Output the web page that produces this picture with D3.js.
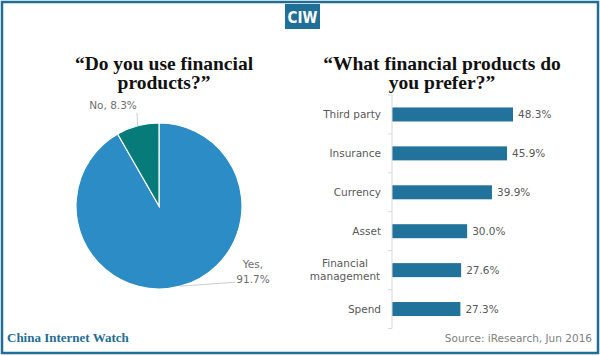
<!DOCTYPE html>
<html><head><meta charset="utf-8">
<script src="https://cdn.jsdelivr.net/npm/d3@7/dist/d3.min.js"></script>
<style>body{margin:0;background:#fff}svg{display:block}</style>
</head><body>
<script>
const pieLabels = ["Yes", "No"];
const pieValues = [91.7, 8.3];
const barCategories = ["Third party", "Insurance", "Currency", "Asset", "Financial management", "Spend"];
const barValues = [48.3, 45.9, 39.9, 30.0, 27.6, 27.3];

const W = 600, H = 356;
const svg = d3.select("body").append("svg").attr("width", W).attr("height", H);
const frameColor = "#1f6e96";
const labelFont = "'DejaVu Sans', sans-serif";
const titleFont = "'Liberation Serif', 'DejaVu Serif', serif";

svg.append("rect").attr("x", 2).attr("y", 2).attr("width", 596).attr("height", 351)
  .attr("fill", "none").attr("stroke", frameColor).attr("stroke-width", 2.5);

// CIW badge
svg.append("rect").attr("x", 285).attr("y", 4).attr("width", 35).attr("height", 25).attr("fill", "#1f6f98");
svg.append("text").attr("x", 302.5).attr("y", 22.5).attr("text-anchor", "middle")
  .attr("fill", "#fff").attr("font-family", "'Liberation Sans Narrow', 'DejaVu Sans Condensed', sans-serif")
  .attr("font-weight", "bold").attr("font-size", 15).text("CIW");

// Titles
function title(x, lines) {
  const t = svg.append("text").attr("text-anchor", "middle").attr("font-family", titleFont)
    .attr("font-weight", "bold").attr("font-size", 19.5).attr("fill", "#111");
  lines.forEach((l, i) => t.append("tspan").attr("x", x).attr("y", 70 + i * 19).text(l));
}
title(164, ["\u201CDo you use financial", "products?\u201D"]);
title(442, ["\u201CWhat financial products do", "you prefer?\u201D"]);

// Pie
const cx = 159, cy = 206, r = 83;
const pie = d3.pie().sort(null).value(d => d)(pieValues);
const arc = d3.arc().innerRadius(0).outerRadius(r);
const pieColors = ["#2b8cc6", "#077b79"];
const pg = svg.append("g").attr("transform", `translate(${cx},${cy})`);
pg.selectAll("path").data(pie).join("path").attr("d", arc)
  .attr("fill", (d, i) => pieColors[i]).attr("stroke", "#fff").attr("stroke-width", 1.2);

const lblColor = "#6e6e6e";
// leader lines
const ptArc = d3.arc().innerRadius(r).outerRadius(r);
const yesC = ptArc.centroid(pie[0]);
const noC = ptArc.centroid(pie[1]);
pg.append("line").attr("x1", noC[0]).attr("y1", noC[1]).attr("x2", noC[0] - 0.5).attr("y2", noC[1] - 13)
  .attr("stroke", "#bfbfbf").attr("stroke-width", 0.8);
pg.append("line").attr("x1", yesC[0]).attr("y1", yesC[1]).attr("x2", yesC[0] + 55).attr("y2", yesC[1] - 4)
  .attr("stroke", "#bfbfbf").attr("stroke-width", 0.8);
svg.append("text").attr("x", 113).attr("y", 109).attr("text-anchor", "middle")
  .attr("font-family", labelFont).attr("font-size", 10.5).attr("fill", lblColor)
  .text(`${pieLabels[1]}, ${pieValues[1]}%`);
const yt = svg.append("text").attr("text-anchor", "middle").attr("font-family", labelFont)
  .attr("font-size", 10.5).attr("fill", lblColor);
yt.append("tspan").attr("x", 253).attr("y", 268).text(`${pieLabels[0]},`);
yt.append("tspan").attr("x", 253).attr("y", 283).text(`${pieValues[0]}%`);

// Bars
const x0 = 392;
const x = d3.scaleLinear().domain([0, 48.3]).range([x0, 513]);
const y = d3.scaleBand().domain(barCategories).range([95, 328.5]).paddingInner(0.64).paddingOuter(0.32);
const barColor = "#22739b";
svg.selectAll("rect.bar").data(barValues).join("rect").attr("class", "bar")
  .attr("x", x0).attr("y", (d, i) => y(barCategories[i]))
  .attr("width", d => x(d) - x0).attr("height", y.bandwidth()).attr("fill", barColor);

// axis
svg.append("line").attr("x1", x0).attr("x2", x0).attr("y1", 95).attr("y2", 328.5)
  .attr("stroke", "#d9d9d9").attr("stroke-width", 1);
const bounds = d3.range(barCategories.length + 1).map(i => 95 + i * (233.5 / barCategories.length));
svg.selectAll("line.tk").data(bounds).join("line").attr("class", "tk")
  .attr("x1", x0 - 4).attr("x2", x0).attr("y1", d => d).attr("y2", d => d)
  .attr("stroke", "#d9d9d9").attr("stroke-width", 1);

// category labels
barCategories.forEach((c, i) => {
  const cyb = y(c) + y.bandwidth() / 2;
  if (c === "Financial management") {
    const t = svg.append("text").attr("text-anchor", "middle").attr("font-family", labelFont)
      .attr("font-size", 10.5).attr("fill", "#595959");
    t.append("tspan").attr("x", 345).attr("y", cyb - 3).text("Financial");
    t.append("tspan").attr("x", 345).attr("y", cyb + 10).text("management");
  } else {
    svg.append("text").attr("text-anchor", "end").attr("font-family", labelFont)
      .attr("font-size", 10.5).attr("fill", "#595959")
      .attr("x", 381).attr("y", cyb + 4).text(c);
  }
  svg.append("text").attr("x", x(barValues[i]) + 5).attr("y", cyb + 4)
    .attr("font-family", labelFont).attr("font-size", 10.5).attr("fill", "#595959")
    .text(barValues[i].toFixed(1) + "%");
});

// footer
svg.append("text").attr("x", 7).attr("y", 342).attr("font-family", titleFont).attr("font-weight", "bold")
  .attr("font-size", 13).attr("fill", "#1f6e95").text("China Internet Watch");
svg.append("text").attr("x", 592).attr("y", 342).attr("text-anchor", "end").attr("font-family", labelFont)
  .attr("font-size", 10.5).attr("fill", "#808080").text("Source: iResearch, Jun 2016");
</script>
</body></html>
